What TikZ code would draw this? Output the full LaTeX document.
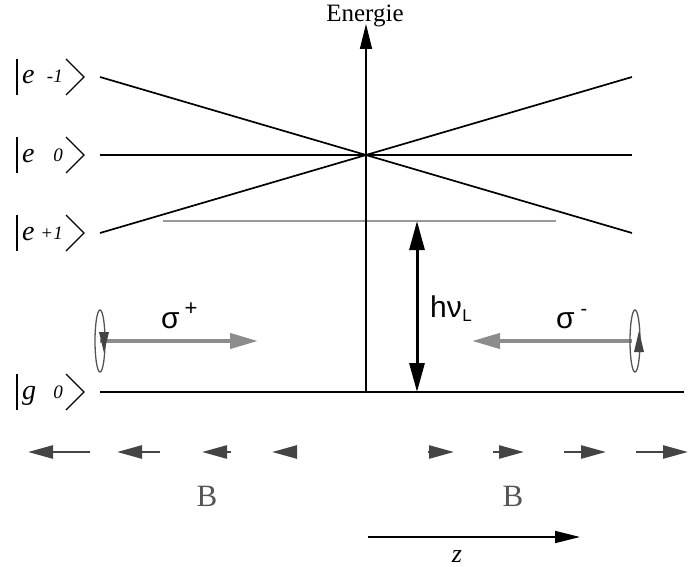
\documentclass[tikz,border=0pt]{standalone}
\usepackage{fontspec}
\setmainfont{Liberation Serif}
\newfontfamily\sansf{Liberation Sans}
\usetikzlibrary{arrows.meta}
\definecolor{lgray}{HTML}{8C8C8C}
\definecolor{mgray}{HTML}{999999}
\definecolor{dgray}{HTML}{444444}
\definecolor{bgray}{HTML}{555555}
\begin{document}
\begin{tikzpicture}[x=1pt,y=-1pt,
  level/.style={line width=1.7pt},
  ketbar/.style={line width=2pt},
  ketbr/.style={line width=1.4pt},
  ketletter/.style={font=\fontsize{28}{32}\selectfont\itshape,inner sep=0pt,anchor=base west},
  ketidx/.style={font=\fontsize{19}{22}\selectfont\itshape,inner sep=0pt,anchor=base east},
  barrow/.style={dgray,line width=2.6pt,-{Triangle[length=25pt,width=13pt]}},
  garrow/.style={lgray,line width=4pt,-{Triangle[length=28pt,width=15pt]}},
  pol/.style={bgray,line width=1.3pt},
  lbl/.style={inner sep=0pt,anchor=base west}]
\useasboundingbox (0,0) rectangle (688,567);
% coordinates
\coordinate (ax0) at (366,392);
\coordinate (ax1) at (366,24);
\coordinate (m1L) at (100,77);  \coordinate (m1R) at (632,233);
\coordinate (p1L) at (100,233); \coordinate (p1R) at (632,77);
\coordinate (z0L) at (100,155); \coordinate (z0R) at (632,155);
\coordinate (gL) at (100,392);  \coordinate (gR) at (684,392);
\coordinate (vL) at (163,221);  \coordinate (vR) at (556,221);
\coordinate (hT) at (417,221);  \coordinate (hB) at (417,392);
% levels
\draw[level] (m1L) -- (m1R);
\draw[level] (p1L) -- (p1R);
\draw[level] (z0L) -- (z0R);
\draw[level] (gL) -- (gR);
\draw[mgray,line width=1.7pt] (vL) -- (vR);
% energy axis
\draw[line width=1.5pt,-{Triangle[length=25pt,width=12pt]}] (ax0) -- (ax1);
\node[inner sep=0pt,anchor=base,font=\fontsize{25}{28}\selectfont] (en) at (365,22) {Energie};
% h nu arrow
\draw[line width=3pt,{Triangle[length=29pt,width=15pt]}-{Triangle[length=29pt,width=15pt]}] (hT) -- (hB);
\node[lbl,font=\sansf\fontsize{30}{32}\selectfont] (hn) at (430,317) {hν\kern0.5pt\raisebox{-4pt}{\fontsize{17}{18}\selectfont L}};
% kets
\foreach \yy/\ll/\ii/\nm in {77/e/-1/km, 155/e/0/kz, 233/e/+1/kp, 392/g/0/kg}{
  \draw[ketbar] (17,\yy-18) -- (17,\yy+18);
  \node[ketletter] (\nm l) at (22,\yy+7) {\ll};
  \node[ketidx] (\nm i) at (63,\yy+6) {\ii};
  \draw[ketbr] (66,\yy-18) -- (84,\yy) -- (66,\yy+18);
}
% sigma plus
\coordinate (spA) at (100,341); \coordinate (spB) at (258,341);
\draw[garrow] (spA) -- (spB);
\draw[pol] (spA) ellipse [x radius=5pt,y radius=31pt];
\fill[dgray] (99,332) -- (109,332) -- (104,353) -- cycle;
\node[lbl,font=\sansf\fontsize{30}{32}\selectfont] (sp) at (161,328) {σ\kern5pt\raisebox{13pt}{\fontsize{22}{24}\selectfont +}};
% sigma minus
\coordinate (smA) at (632,341); \coordinate (smB) at (472,341);
\draw[garrow] (smA) -- (smB);
\draw[pol] (635,341) ellipse [x radius=5pt,y radius=31pt];
\fill[dgray] (634,352) -- (644,352) -- (639,331) -- cycle;
\node[lbl,font=\sansf\fontsize{30}{32}\selectfont] (sm) at (556,328) {σ\kern6pt\raisebox{13pt}{\fontsize{20}{22}\selectfont -}};
% B arrows
\foreach \a/\b/\nm in {90/28/b1, 160/117/b2, 231/202/b3, 297/272/b4}{
  \coordinate (\nm s) at (\a,452); \coordinate (\nm e) at (\b,452);
  \draw[barrow] (\nm s) -- (\nm e);
}
\foreach \a/\b/\nm in {428/454/b5, 493/524/b6, 564/606/b7, 636/688/b8}{
  \coordinate (\nm s) at (\a,452); \coordinate (\nm e) at (\b,452);
  \draw[barrow] (\nm s) -- (\nm e);
}
\node[inner sep=0pt,anchor=base,bgray,font=\fontsize{31}{33}\selectfont] (B1) at (207,506) {B};
\node[inner sep=0pt,anchor=base,bgray,font=\fontsize{31}{33}\selectfont] (B2) at (513,506) {B};
% z axis
\coordinate (z1) at (368,537); \coordinate (z2) at (580,537);
\draw[line width=1.7pt,-{Triangle[length=25pt,width=12pt]}] (z1) -- (z2);
\node[inner sep=0pt,anchor=base,font=\fontsize{26}{28}\selectfont\itshape] (zl) at (457,562) {z};
\end{tikzpicture}
\end{document}
